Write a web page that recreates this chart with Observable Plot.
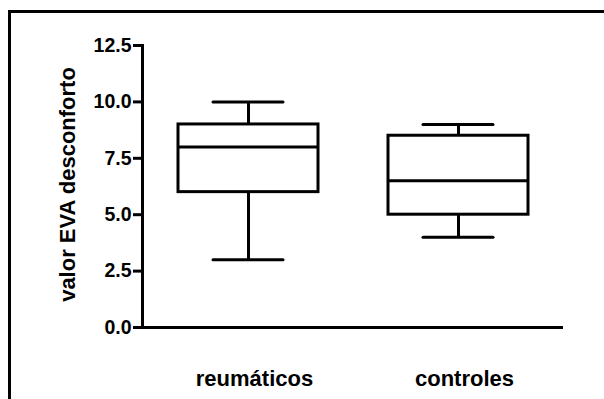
<!DOCTYPE html>
<html>
<head>
<meta charset="utf-8">
<script src="https://cdn.jsdelivr.net/npm/d3@7"></script>
<script src="https://cdn.jsdelivr.net/npm/@observablehq/plot@0.6"></script>
<style>
  html, body { margin: 0; padding: 0; background: #fff; }
  #wrap { position: relative; width: 604px; height: 399px; overflow: hidden; }
  #border { position: absolute; left: 8px; top: 10px; right: 0; bottom: 0;
            border-top: 3px solid #000; border-left: 3px solid #000; }
  #chart { position: absolute; left: 0; top: 0; }
</style>
</head>
<body>
<div id="wrap">
  <div id="border"></div>
  <div id="chart"></div>
</div>
<script>
// Box-plot summary for each group (min, quartiles, median, max)
const groups = ["reumáticos", "controles"];
const minimum = [3, 4];
const q1 = [6, 5];
const median = [8, 6.5];
const q3 = [9, 8.5];
const maximum = [10, 9];
const yTicks = [0, 2.5, 5, 7.5, 10, 12.5];
const yLabel = "valor EVA desconforto";

const data = groups.map((g, i) => ({
  group: g, min: minimum[i], q1: q1[i], median: median[i], q3: q3[i], max: maximum[i]
}));

const sw = 3;
const chart = Plot.plot({
  width: 604,
  height: 399,
  marginTop: 45,
  marginBottom: 72,
  marginLeft: 142,
  marginRight: 41,
  style: {
    fontFamily: "'Liberation Sans', Arial, Helvetica, sans-serif",
    fontWeight: "bold",
    color: "#000",
    background: "transparent"
  },
  x: { domain: groups, padding: 0, label: null },
  y: { domain: [0, 12.5], label: null },
  marks: [
    // whiskers
    Plot.ruleX(data, { x: "group", y1: "min", y2: "q1", stroke: "#000", strokeWidth: sw }),
    Plot.ruleX(data, { x: "group", y1: "q3", y2: "max", stroke: "#000", strokeWidth: sw }),
    // whisker caps
    Plot.tickY(data, { x: "group", y: "min", insetLeft: 70, insetRight: 70, stroke: "#000", strokeWidth: sw, strokeLinecap: "round" }),
    Plot.tickY(data, { x: "group", y: "max", insetLeft: 70, insetRight: 70, stroke: "#000", strokeWidth: sw, strokeLinecap: "round" }),
    // interquartile boxes
    Plot.barY(data, { x: "group", y1: "q1", y2: "q3", insetLeft: 35, insetRight: 35, fill: "#fff", stroke: "#000", strokeWidth: sw }),
    // medians
    Plot.tickY(data, { x: "group", y: "median", insetLeft: 35, insetRight: 35, stroke: "#000", strokeWidth: sw }),
    // axis lines
    Plot.ruleY([0], { stroke: "#000", strokeWidth: sw }),
    Plot.frame({ anchor: "left", stroke: "#000", strokeWidth: sw }),
    Plot.axisY({ ticks: yTicks, tickFormat: d3.format(".1f"), tickSize: 9, tickPadding: 2, fontSize: 19.5, strokeWidth: sw, label: null }),
    Plot.axisX({ tickSize: 0, tickPadding: 43, fontSize: 22, dx: 6, label: null }),
    Plot.text([yLabel], { frameAnchor: "left", textAnchor: "middle", rotate: -90, dx: -75, dy: -2, fontSize: 22, fontWeight: "bold", fill: "#000" })
  ]
});
document.getElementById("chart").appendChild(chart);
</script>
</body>
</html>
